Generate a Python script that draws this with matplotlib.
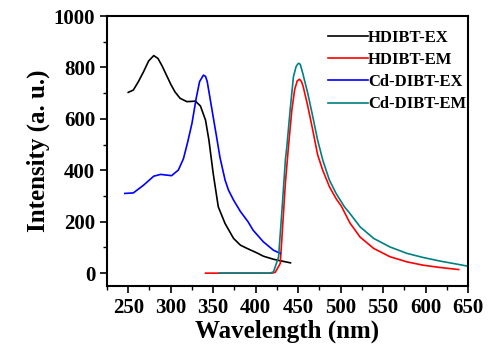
import matplotlib
matplotlib.use("Agg")
import matplotlib.pyplot as plt
from matplotlib.ticker import MultipleLocator

# HDIBT-EX (black)
hex_x = [250, 256, 262, 268, 274, 280, 285, 290, 295, 300, 305, 311, 319, 325, 329, 335,
         341, 345, 350, 356, 364, 374, 382, 390, 402, 409, 421, 425, 441]
hex_y = [703, 712, 745, 783, 825, 846, 835, 805, 770, 735, 705, 680, 667, 668, 669, 650,
         595, 517, 388, 258, 193, 135, 109, 96, 78, 66, 54, 51, 40]

# HDIBT-EM (red)
hem_x = [341, 357, 400, 419, 423, 429, 435, 438.6, 442.6, 446, 449, 451.6, 454, 456,
         461, 467, 473, 479, 487, 495, 501, 511, 523, 539, 558, 578, 597, 617, 639]
hem_y = [0, 0, 0, 0, 3, 38, 350, 491, 634, 715, 748, 754, 745, 725,
         655, 560, 460, 400, 335, 288, 260, 195, 140, 96, 64, 44, 31, 22, 14]

# Cd-DIBT-EX (blue)
cex_x = [246, 256, 268, 280, 288, 296, 301, 309, 315, 320, 325, 330, 334, 338.5, 341,
         343, 348, 354, 358, 364, 368, 374, 382, 391, 397, 409, 421, 429]
cex_y = [310, 312, 342, 377, 384, 381, 379, 401, 445, 510, 582, 680, 745, 770, 765,
         745, 647, 530, 450, 362, 323, 284, 240, 200, 167, 122, 89, 77]

# Cd-DIBT-EM (teal)
cem_x = [357, 380, 400, 417, 421, 427, 431, 435, 436.7, 440.6, 444.5, 447.6, 449.5,
         450.8, 452.5, 455.5, 461.4, 467.3, 473, 479, 486.8, 494.7, 504.5, 511, 523,
         539, 558, 578, 597, 617, 637, 650]
cem_y = [0, 0, 0, 0, 5, 63, 245, 440, 491, 634, 764, 803, 813,
         816, 812, 777, 699, 608, 517, 440, 362, 310, 258, 232, 180,
         135, 102, 77, 61, 47, 35, 27]

plt.rcParams['font.family'] = ['Liberation Serif', 'DejaVu Serif']
plt.rcParams['font.weight'] = 'bold'

fig = plt.figure(figsize=(4.96, 3.5), dpi=100)
ax = fig.add_axes([107/496, 1-286/350, (468-107)/496, (286-16)/350])

lw = 1.2
ax.plot(hex_x, hex_y, color='black', lw=lw, label='HDIBT-EX')
ax.plot(hem_x, hem_y, color='red', lw=lw, label='HDIBT-EM')
ax.plot(cex_x, cex_y, color='blue', lw=lw, label='Cd-DIBT-EX')
ax.plot(cem_x, cem_y, color='#008080', lw=lw, label='Cd-DIBT-EM')

ax.set_xlim(225, 650)
ax.set_ylim(-50, 1000)
ax.set_xticks(range(250, 651, 50))
ax.set_yticks(range(0, 1001, 200))
ax.xaxis.set_minor_locator(MultipleLocator(25))
ax.yaxis.set_minor_locator(MultipleLocator(100))

ax.tick_params(which='major', direction='out', length=5, width=1.2, labelsize=15)
ax.tick_params(which='minor', direction='out', length=3, width=1.0)
for lab in ax.get_xticklabels() + ax.get_yticklabels():
    lab.set_fontweight('bold')
for s in ax.spines.values():
    s.set_linewidth(1.5)

ax.set_xlabel('Wavelength (nm)', fontsize=18, fontweight='bold', labelpad=1)
ax.set_ylabel('Intensity (a. u.)', fontsize=18, fontweight='bold', labelpad=3)

leg = ax.legend(loc='upper left', bbox_to_anchor=(0.612, 0.95), frameon=False,
                fontsize=12, handlelength=2.4, handletextpad=0.0, labelspacing=0.38,
                borderpad=0, borderaxespad=0)
for t in leg.get_texts():
    t.set_fontweight('bold')

fig.savefig('out.png', dpi=100)
